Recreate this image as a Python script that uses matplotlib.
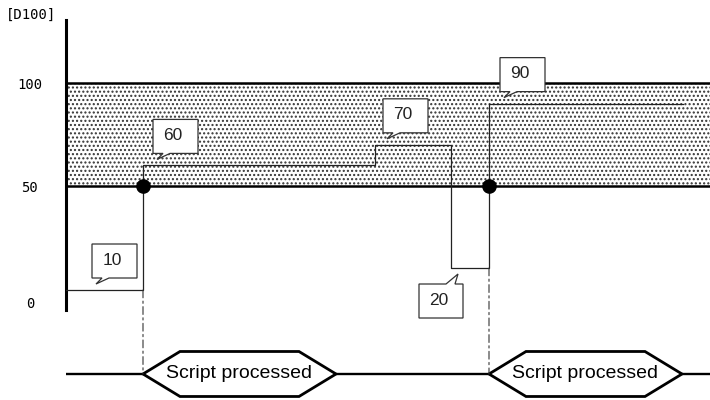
import numpy as np
import matplotlib
matplotlib.use('Agg')
import matplotlib.pyplot as plt
import matplotlib.transforms as mtransforms
from matplotlib.patches import Polygon, ConnectionPatch

# данные: моменты смены значения D100 и сами значения
times = [0, 77, 309, 385, 423]
levels = [10, 60, 70, 20, 90]
t_end = 617
threshold = 50
band = (50, 100)
yticks = [0, 50, 100]
callout_t = [30, 91, 321, 392, 438]  # где стоят выноски
script_label = 'Script processed'
script_duration = 193

# схема не в масштабе: нелинейная шкала по оси Y
knot_vals = [-20, 0, 10, 20, 50, 100, 200]
knot_pos = [-342, -302, -290, -268, -186, -83, 123]


def fwd(v):
    return np.interp(v, knot_vals, knot_pos)


def inv(p):
    return np.interp(p, knot_pos, knot_vals)


plt.rcParams['hatch.linewidth'] = 1.0
fig = plt.figure(figsize=(7.1, 4.0), dpi=100)
ax = fig.add_axes([66 / 710, 90 / 400, 644 / 710, 290 / 400])
ax2 = fig.add_axes([66 / 710, 0, 644 / 710, 60 / 400])

ax.set_yscale('function', functions=(fwd, inv))
ax.set_xlim(0, 644)
ax.set_ylim(-4, 130.6)

# зона 50..100
ax.axhspan(band[0], band[1], facecolor='white', edgecolor='#333333', hatch='....', lw=0, zorder=0)
ax.axhline(band[0], color='black', lw=1.8, zorder=2)
ax.axhline(band[1], color='black', lw=1.8, zorder=2)

# ступенчатый график
ax.plot(times + [t_end], levels + [levels[-1]], drawstyle='steps-post', color='#222222', lw=0.9, zorder=3)

# точки пересечения порога
cross = [i for i in range(1, len(levels)) if levels[i - 1] < threshold <= levels[i]]
for i in cross:
    ax.plot(times[i], threshold, 'o', ms=9.5, color='black', zorder=4)

for s in ['top', 'right', 'bottom']:
    ax.spines[s].set_visible(False)
ax.spines['left'].set_linewidth(2.2)
ax.set_xticks([])
ax.set_yticks(yticks)
ax.set_yticklabels([str(v) for v in yticks], family='DejaVu Sans Mono', fontsize=10, ha='center')
ax.tick_params(axis='y', length=0, pad=26)
ax.yaxis.set_minor_locator(plt.NullLocator())
fig.text(31 / 710, 1 - 15 / 400, '[D100]', family='DejaVu Sans Mono', fontsize=10, ha='center', va='center')


# выноски со значениями (смещения в пикселях)
def callout(t, v, text, down=True):
    trans = mtransforms.Affine2D().scale(0.01) + fig.dpi_scale_trans + \
        mtransforms.ScaledTranslation(t, v, ax.transData)
    if down:
        verts = [(-4, 12), (6, 12), (0, 6), (13, 12), (41, 12), (41, 46), (-4, 46)]
        cx, cy = 16, 30
    else:
        verts = [(-39, -16), (-12, -16), (0, -6), (-3, -16), (5, -16), (5, -50), (-39, -50)]
        cx, cy = -19, -32
    ax.add_patch(Polygon(verts, closed=True, transform=trans, facecolor='white',
                         edgecolor='#333333', lw=0.9, clip_on=False, zorder=5))
    ax.text(cx, cy, text, transform=trans, ha='center', va='center', family='Liberation Sans',
            fontsize=12.5, color='#222222', zorder=6)


for t, v in zip(callout_t, levels):
    callout(t, v, str(v), down=(v != 20))

# временная диаграмма выполнения скрипта
ax2.set_xlim(0, 644)
ax2.set_ylim(-1.156, 1.511)
ax2.axis('off')
ax2.plot([0, 644], [0, 0], color='black', lw=1.7, zorder=1, solid_capstyle='butt')
slant = 37
for i in cross:
    t0 = times[i]
    t1 = t0 + script_duration
    hexv = [(t0, 0), (t0 + slant, 1), (t1 - slant, 1), (t1, 0), (t1 - slant, -1), (t0 + slant, -1)]
    ax2.add_patch(Polygon(hexv, closed=True, facecolor='white', edgecolor='black', lw=2.0,
                          joinstyle='miter', zorder=2, clip_on=False))
    ax2.text((t0 + t1) / 2, 0, script_label, ha='center', va='center', family='Liberation Sans',
             fontsize=14, zorder=3)
    con = ConnectionPatch(xyA=(t0, levels[i - 1]), coordsA=ax.transData, xyB=(t0, 0),
                          coordsB=ax2.transData, linestyle=(0, (7, 3, 2, 3)), lw=0.8, color='#333333')
    fig.add_artist(con)

plt.savefig('out.png', dpi=100)
